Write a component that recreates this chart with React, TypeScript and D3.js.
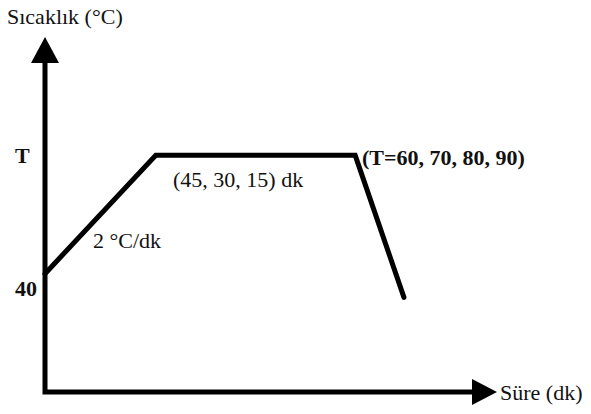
import React from "react";
import * as d3 from "d3";

// Heat-treatment profile (schematic): ramp at 2 °C/dk from 40 °C to T,
// hold for 45 dk, then cool down.
const profileTime = [0, 25, 70, 81]; // dk
const profileTemp = [40, 90, 90, 30]; // °C

const axisLabels = { y: "Sıcaklık (°C)", x: "Süre (dk)" };
const tickLabels = [
  { temp: 90, text: "T" },
  { temp: 40, text: "40" },
];
const rateLabel = "2 °C/dk";
const holdLabel = "(45, 30, 15) dk";
const tempSetLabel = "(T=60, 70, 80, 90)";

const W = 591;
const H = 414;

export default function App() {
  const x = d3.scaleLinear().domain([0, 102]).range([45, 497]);
  const y = d3.scaleLinear().domain([-10, 140]).range([392, 37]);

  const pts: [number, number][] = profileTime.map((t, i) => [t, profileTemp[i]]);
  const line = d3
    .line<[number, number]>()
    .x((d) => x(d[0]))
    .y((d) => y(d[1]));

  const x0 = x(0);
  const y0 = y(-10);
  const yTop = y(140);
  const xEnd = x(102);

  const textStyle: React.CSSProperties = {
    fontFamily: "'Liberation Serif', 'Times New Roman', 'DejaVu Serif', serif",
    fontSize: 22,
  };
  const boldStyle: React.CSSProperties = { ...textStyle, fontWeight: "bold" };

  return (
    <svg
      width={W}
      height={H}
      style={{ position: "absolute", left: 0, top: 0, background: "#fff" }}
    >
      {/* axes */}
      <path
        d={`M${x0},${yTop + 20} L${x0},${y0} L${xEnd - 20},${y0}`}
        fill="none"
        stroke="#000"
        strokeWidth={5}
        strokeLinejoin="miter"
      />
      <path
        d={`M${x0},${yTop} L${x0 + 14},${yTop + 26} L${x0 - 14},${yTop + 26} Z`}
        fill="#000"
      />
      <path
        d={`M${xEnd},${y0} L${xEnd - 25},${y0 + 13} L${xEnd - 25},${y0 - 13} Z`}
        fill="#000"
      />

      {/* temperature profile */}
      <path
        d={line(pts) ?? ""}
        fill="none"
        stroke="#000"
        strokeWidth={5}
        strokeLinejoin="miter"
        strokeLinecap="round"
      />

      {/* axis titles */}
      <text x={7} y={24} style={textStyle} fill="#111">
        {axisLabels.y}
      </text>
      <text x={xEnd + 3} y={y0 + 8} style={textStyle} fill="#111">
        {axisLabels.x}
      </text>

      {/* y tick labels */}
      {tickLabels.map((t) => (
        <text
          key={t.text}
          x={15}
          y={y(t.temp) + (t.text === "T" ? 8 : 22)}
          style={boldStyle}
          fill="#111"
        >
          {t.text}
        </text>
      ))}

      {/* annotations */}
      <text x={93} y={248} style={textStyle} fill="#111">
        {rateLabel}
      </text>
      <text x={173} y={187} style={textStyle} fill="#111">
        {holdLabel}
      </text>
      <text x={362} y={165} style={boldStyle} fill="#111">
        {tempSetLabel}
      </text>
    </svg>
  );
}
